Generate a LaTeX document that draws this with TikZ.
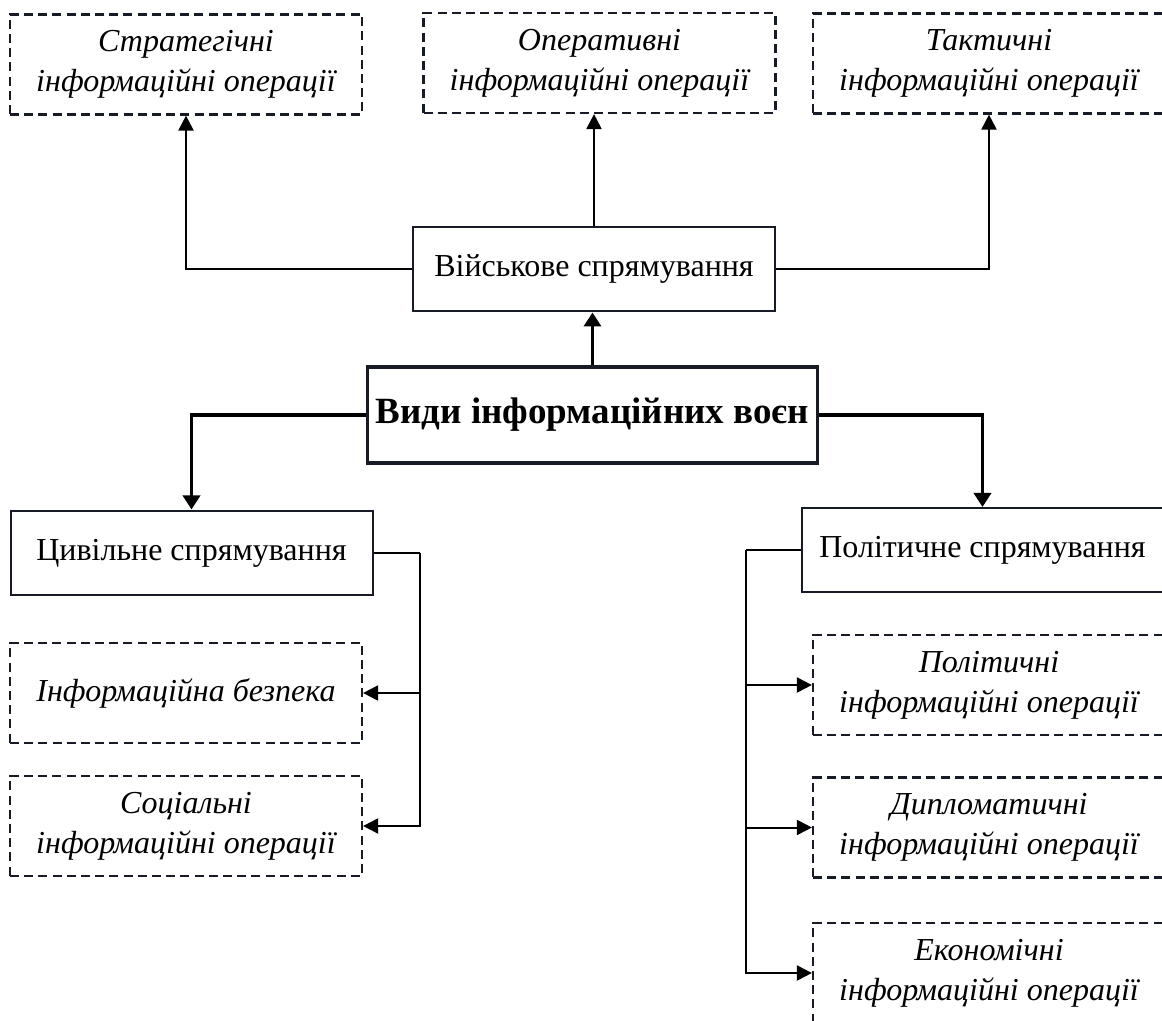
\documentclass[tikz,border=0pt]{standalone}
\usepackage{fontspec}
\setmainfont{Liberation Serif}
\usetikzlibrary{arrows.meta, positioning}
\definecolor{boxline}{RGB}{22,27,38}

\begin{document}
\begin{tikzpicture}[x=0.5pt, y=-0.5pt,
        opbox/.style={draw=boxline, dashed, dash pattern=on 4.5pt off 2.6pt, line width=1.1pt,
            minimum width=176pt, minimum height=50pt, align=center,
            font=\fontsize{16}{20}\selectfont\itshape, inner sep=0pt},
        dirbox/.style={draw=boxline, line width=1pt, minimum width=181pt, minimum height=42pt,
            font=\fontsize{16}{18}\selectfont, inner sep=0pt, text height=11pt, text depth=3.5pt},
        mainbox/.style={draw=boxline, line width=1.8pt, minimum width=225pt, minimum height=48pt,
            font=\fontsize{18.5}{20}\selectfont\bfseries, inner sep=0pt, text height=12pt, text depth=3pt},
        link/.style={line width=1pt, -{Triangle[length=7.5pt, width=7.5pt]}},
        thicklink/.style={line width=1.8pt, -{Triangle[length=7pt, width=8.5pt]}}
    ]
            \useasboundingbox (0, 0) rectangle (1162, 1021);
            \clip (0, 0) rectangle (1162, 1021);
            \node[opbox] (strat) at (186, 64.5) {Стратегічні\\інформаційні операції};
            \node[opbox] (oper) at (599.5, 63) {Оперативні\\інформаційні операції};
            \node[opbox] (takt) at (989, 63.5) {Тактичні\\інформаційні операції};
            \node[dirbox] (vijsk) at (594, 269.5) {Військове спрямування};
            \node[mainbox] (vydy) at (592.5, 415) {Види інформаційних воєн};
            \node[dirbox] (tsyv) at (191.5, 552.5) {Цивільне спрямування};
            \node[dirbox] (polit) at (982.5, 550) {Політичне спрямування};
            \node[opbox] (bezp) at (186, 693) {Інформаційна безпека};
            \node[opbox] (sots) at (186, 826) {Соціальні\\інформаційні операції};
            \node[opbox] (polop) at (989, 685) {Політичні\\інформаційні операції};
            \node[opbox] (dypl) at (989, 827.5) {Дипломатичні\\інформаційні операції};
            \node[opbox] (ekon) at (989, 973) {Економічні\\інформаційні операції};
            \coordinate (tbus) at (420, 552.5);
            \coordinate (pbus) at (746, 550);
            \draw[link] (vijsk.west) -| (strat.south);
            \draw[link] (vijsk.north) -- (vijsk.north |- oper.south);
            \draw[link] (vijsk.east) -| (takt.south);
            \draw[thicklink] (vydy.north) -- (vydy.north |- vijsk.south);
            \draw[thicklink] (vydy.west) -| (tsyv.north);
            \draw[thicklink] (vydy.east) -| (polit.north);
            \draw[line width=1pt] (tsyv.east) -- (tbus);
            \draw[link] (tbus) |- (bezp.east);
            \draw[link] (tbus) |- (sots.east);
            \draw[line width=1pt] (polit.west) -- (pbus);
            \draw[link] (pbus) |- (polop.west);
            \draw[link] (pbus) |- (dypl.west);
            \draw[link] (pbus) |- (ekon.west);
        \end{tikzpicture}
\end{document}
